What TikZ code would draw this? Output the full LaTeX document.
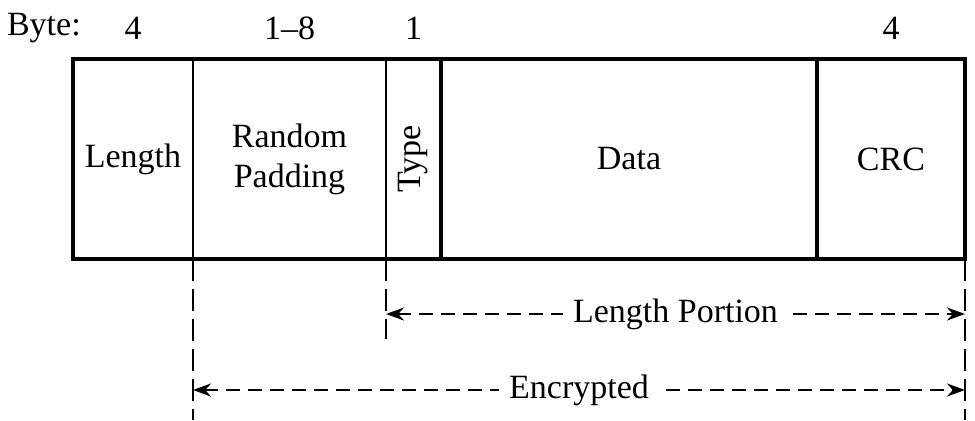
\documentclass[tikz,border=0pt]{standalone}
\usepackage{fontspec}
\setmainfont{Liberation Serif}
\usepackage{tikz}
\usetikzlibrary{positioning, calc, arrows.meta}

\begin{document}
\begin{tikzpicture}[x=0.5pt, y=-0.5pt, every node/.style={font=\fontsize{17}{20}\selectfont}
    , >={Stealth[length=9pt, width=6.5pt]}
    , field/.style={minimum height=100pt, inner sep=0pt, outer sep=0pt, align=center}
    , guide/.style={line width=1.4pt, dash pattern=on 11pt off 4pt}
    , span/.style={line width=1.4pt, dash pattern=on 7pt off 4pt, <->}
    ]

    \useasboundingbox (0,0) rectangle (975,420);

    \node[field, minimum width=60pt, anchor=west] (len) at (73,159) {Length};
    \node[field, minimum width=96.5pt, right=0pt of len] (pad) {Random\\Padding};
    \node[field, minimum width=27.5pt, right=0pt of pad] (type) {\rotatebox{90}{Type}};
    \node[field, minimum width=188pt, right=0pt of type] (data) {Data};
    \node[field, minimum width=74pt, right=0pt of data] (crc) {CRC};

    % byte counts over the fields
    \node[anchor=west] (bytehd) at (0,28) {Byte:};
    \node (blen) at (len.north |- 0,28) {4};
    \node (bpad) at (pad.north |- 0,28) {1--8};
    \node (btype) at (type.north |- 0,28) {1};
    \node (bcrc) at (crc.north |- 0,28) {4};

    \draw[line width=1pt] (len.north east) -- (len.south east);
    \draw[line width=1pt] (pad.north east) -- (pad.south east);
    \draw[line width=2.2pt] (type.north east) -- (type.south east);
    \draw[line width=2.2pt] (data.north east) -- (data.south east);
    \draw[line width=2.2pt] (len.north west) rectangle (crc.south east);

    % dashed guides below the frame
    \draw[guide] (len.south east) -- ++(0,161);
    \draw[guide] (pad.south east) -- ++(0,80);
    \draw[guide] (crc.south east) -- ++(0,161);

    \path (pad.south east) ++(0,55) coordinate (lpL);
    \path (crc.south east) ++(0,55) coordinate (lpR);
    \path (len.south east) ++(0,131) coordinate (encL);
    \path (crc.south east) ++(0,131) coordinate (encR);

    \draw[span] (lpL) -- node[fill=white, inner sep=5pt, midway] (lplbl) {Length Portion} (lpR);
    \draw[span] (encL) -- node[fill=white, inner sep=5pt, midway] (enclbl) {Encrypted} (encR);

\end{tikzpicture}
\end{document}
